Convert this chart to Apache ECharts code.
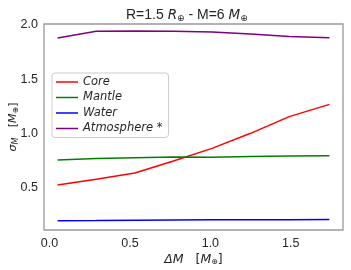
<!DOCTYPE html>
<html><head><meta charset="utf-8">
<script src="https://cdn.jsdelivr.net/npm/echarts@6/dist/echarts.min.js"></script>
<style>html,body{margin:0;padding:0;background:#fff}#c{width:351px;height:270px}</style>
</head><body><div id="c"></div>
<script>
const deltaM = [0.05, 0.29, 0.53, 0.77, 1.01, 1.25, 1.49, 1.74];
const core = [0.527, 0.580, 0.638, 0.748, 0.864, 1.002, 1.155, 1.268];
const mantle = [0.757, 0.770, 0.778, 0.785, 0.783, 0.790, 0.794, 0.795];
const water = [0.199, 0.201, 0.204, 0.205, 0.207, 0.208, 0.209, 0.211];
const atmosphere = [1.877, 1.939, 1.942, 1.940, 1.932, 1.914, 1.891, 1.880];
const xTicks = [0, 0.5, 1.0, 1.5];
const yTicks = [0.5, 1.0, 1.5, 2.0];
const names = ['Core', 'Mantle', 'Water', 'Atmosphere *'];
const colors = ['#ff0000', '#008000', '#0000ff', '#800080'];
const seriesVals = [core, mantle, water, atmosphere];

const chart = echarts.init(document.getElementById('c'));
const font = 'Liberation Sans, Arial, sans-serif';
const txt = '#262626';
chart.setOption({
  animation: false,
  title: {
    text: 'R=1.5 {i|R}{s|⊕} - M=6 {i|M}{s|⊕}',
    left: 121, top: 3,
    textStyle: {
      fontFamily: font, fontSize: 14, fontWeight: 'normal', color: txt,
      rich: {
        i: {fontFamily: 'DejaVu Sans', fontStyle: 'italic', fontSize: 13.5, color: txt},
        s: {fontFamily: 'DejaVu Sans', fontSize: 9, color: txt, padding: [6, 0, 0, 0]}
      }
    }
  },
  legend: {
    orient: 'vertical', left: 52, top: 73,
    data: names,
    icon: 'rect', itemWidth: 22, itemHeight: 1.5, itemGap: 1.5,
    padding: [2, 6, 2, 4],
    borderColor: '#cccccc', borderWidth: 1, borderRadius: 3,
    backgroundColor: '#fff',
    textStyle: {fontFamily: 'DejaVu Sans', fontStyle: 'italic', fontSize: 11.5, color: txt, lineHeight: 14}
  },
  grid: {left: 44, right: 8, top: 24, bottom: 40, outerBoundsMode: 'none', containLabel: false,
    show: true, borderColor: '#999', borderWidth: 1.3, backgroundColor: '#fff'},
  xAxis: {
    type: 'value', min: -0.0345, max: 1.8245,
    splitLine: {show: false}, axisLine: {show: false}, axisTick: {show: false},
    axisLabel: {customValues: xTicks, formatter: v => v.toFixed(1), fontFamily: font, fontSize: 12.5, color: txt, margin: 7},
    name: '{i|ΔM}   [{i|M}{s|⊕}]', nameLocation: 'middle', nameGap: 23, nameMoveOverlap: false,
    nameTextStyle: {fontFamily: 'DejaVu Sans', fontSize: 12.5, color: txt,
      rich: {i: {fontFamily: 'DejaVu Sans', fontStyle: 'italic', fontSize: 12.5, color: txt},
             s: {fontFamily: 'DejaVu Sans', fontSize: 8, color: txt, padding: [5, 0, 0, 0]}}}
  },
  yAxis: {
    type: 'value', min: 0.114, max: 2.006,
    splitLine: {show: false}, axisLine: {show: false}, axisTick: {show: false},
    axisLabel: {customValues: yTicks, formatter: v => v.toFixed(1), fontFamily: font, fontSize: 12.5, color: txt, margin: 6},
    name: '{i|σ}{s|M}   [{i|M}{s|⊕}]', nameLocation: 'middle', nameRotate: 90, nameGap: 24, nameMoveOverlap: false,
    nameTextStyle: {fontFamily: 'DejaVu Sans', fontSize: 11, color: txt,
      rich: {i: {fontFamily: 'DejaVu Sans', fontStyle: 'italic', fontSize: 11, color: txt},
             s: {fontFamily: 'DejaVu Sans', fontStyle: 'italic', fontSize: 8, color: txt, padding: [5, 0, 0, 0]}}}
  },
  series: names.map((n, k) => ({
    name: n, type: 'line', showSymbol: false, symbol: 'none',
    data: deltaM.map((x, i) => [x, seriesVals[k][i]]),
    lineStyle: {color: colors[k], width: 1.5}, itemStyle: {color: colors[k]}
  }))
});
</script></body></html>
